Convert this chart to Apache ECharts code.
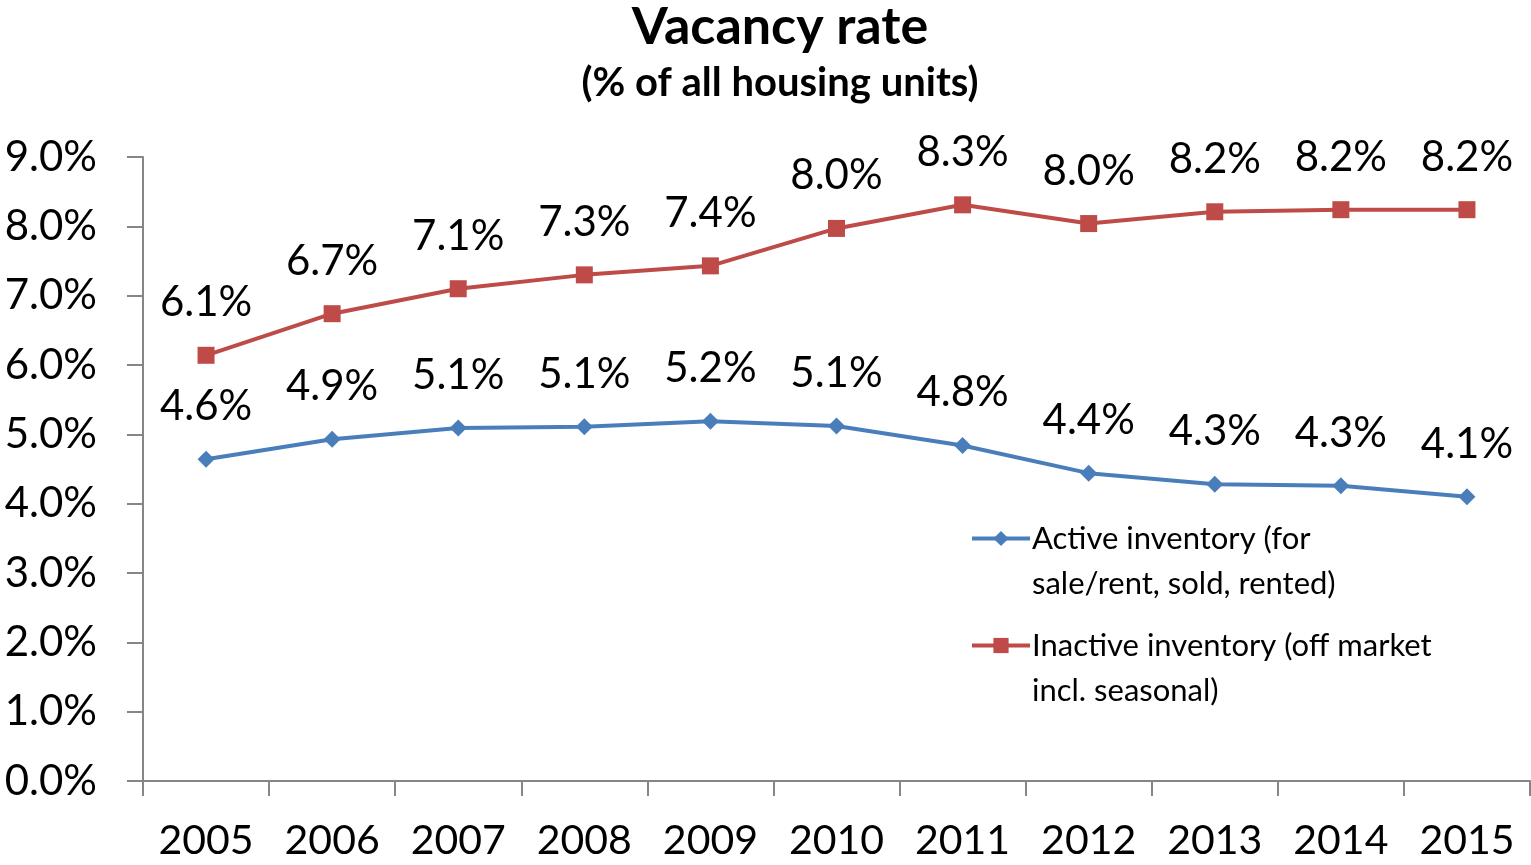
<!DOCTYPE html>
<html lang="en">
  <head>
    <meta charset="utf-8">
    <title>Vacancy rate</title>
    <script src="https://cdn.jsdelivr.net/npm/echarts@6/dist/echarts.min.js"></script>
    <style>
      html, body { margin: 0; padding: 0; background: #fff; }
      #chart { width: 1531px; height: 865px; }
    </style>
  </head>
  <body>
    <div id="chart"></div>
    <script>
      // data
      var years = ['2005', '2006', '2007', '2008', '2009', '2010', '2011', '2012', '2013', '2014', '2015'];
      var activeInv = [4.64, 4.93, 5.09, 5.11, 5.19, 5.12, 4.84, 4.44, 4.28, 4.26, 4.10];
      var inactiveInv = [6.14, 6.74, 7.10, 7.30, 7.43, 7.97, 8.31, 8.04, 8.21, 8.24, 8.24];
      var activeName = 'Active inventory (for sale/rent, sold, rented)';
      var inactiveName = 'Inactive inventory (off market incl. seasonal)';

      var font = 'Lato';
      var chart = echarts.init(document.getElementById('chart'));

      // one legend per series so each sits where the original puts it;
      // leading empty line keeps the icon level with the first text line
      function legendBox(name, top) {
        return {
          data: [{ name: name, lineStyle: { width: 4 } }],
          left: 970,
          top: top,
          padding: 0,
          itemWidth: 58,
          itemHeight: 19,
          itemGap: 0,
          selectedMode: false,
          lineStyle: { width: 4 },
          formatter: function (n) {
            if (n === activeName) return '\nActive inventory (for\nsale/rent, sold, rented)';
            return '\nInactive inventory (off market\nincl. seasonal)';
          },
          textStyle: {
            fontFamily: font, fontSize: 31, color: '#000',
            lineHeight: 45, padding: [0, 0, 0, -3]
          }
        };
      }

      var pct = function (p) { return p.value.toFixed(1) + '%'; };

      chart.setOption({
        animation: false,
        title: {
          text: 'Vacancy rate',
          subtext: '(% of all housing units)',
          left: 775,
          textAlign: 'center',
          top: -4,
          itemGap: 10,
          textStyle: { fontFamily: font, fontWeight: 'bold', fontSize: 52, color: '#000' },
          subtextStyle: { fontFamily: font, fontWeight: 'bold', fontSize: 40, color: '#000' }
        },
        legend: [legendBox(activeName, 471), legendBox(inactiveName, 578)],
        grid: { left: 143, right: 1, top: 157, bottom: 84, containLabel: false },
        xAxis: {
          type: 'category',
          data: years,
          boundaryGap: true,
          axisLine: { lineStyle: { color: '#868686', width: 2 } },
          axisTick: { show: true, interval: 0, length: 15, lineStyle: { color: '#868686', width: 2 } },
          axisLabel: { interval: 0, fontFamily: font, fontSize: 41, color: '#000', margin: 39 },
          splitLine: { show: false }
        },
        yAxis: {
          type: 'value',
          min: 0,
          max: 9,
          interval: 1,
          axisLine: { show: true, lineStyle: { color: '#868686', width: 2 } },
          axisTick: { show: true, length: 16, lineStyle: { color: '#868686', width: 2 } },
          axisLabel: {
            fontFamily: font, fontSize: 42, color: '#000', margin: 46,
            formatter: function (v) { return v.toFixed(1) + '%'; }
          },
          splitLine: { show: false }
        },
        series: [
          {
            name: activeName,
            type: 'line',
            data: activeInv,
            symbol: 'diamond',
            symbolSize: 17,
            itemStyle: { color: '#4A7EBB' },
            lineStyle: { color: '#4A7EBB', width: 4 },
            label: {
              show: true, position: 'top', distance: 23,
              fontFamily: font, fontSize: 42, color: '#000', formatter: pct
            }
          },
          {
            name: inactiveName,
            type: 'line',
            data: inactiveInv,
            symbol: 'rect',
            symbolSize: 17,
            itemStyle: { color: '#BE4B48' },
            lineStyle: { color: '#BE4B48', width: 4 },
            label: {
              show: true, position: 'top', distance: 23,
              fontFamily: font, fontSize: 42, color: '#000', formatter: pct
            }
          }
        ]
      });
    </script>
  </body>
</html>
